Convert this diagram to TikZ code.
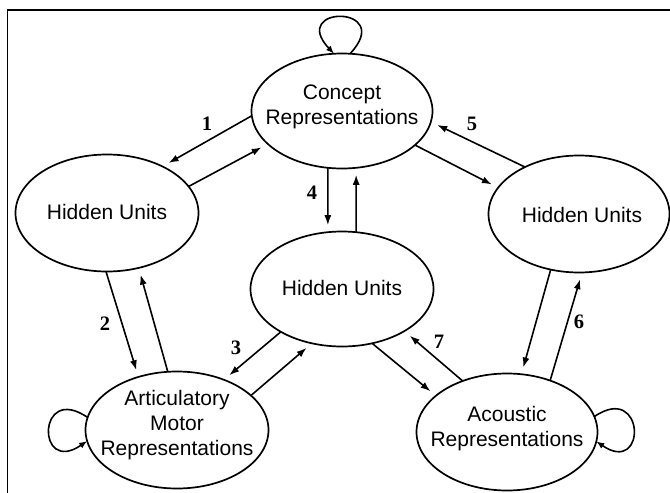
\documentclass[tikz,border=0pt]{standalone}
\usepackage{fontspec}
\setmainfont{Liberation Sans}
\newfontfamily\numfont{Liberation Serif}
\usetikzlibrary{shapes.geometric,arrows.meta}
\newcommand{\etxt}[2]{\makebox[0pt]{\raisebox{#1}[0pt][0pt]{\begin{tabular}{@{}c@{}}#2\end{tabular}}}}
\begin{document}
\begin{tikzpicture}[x=1pt,y=-1pt,
  unit/.style={ellipse, draw, line width=1.7pt, inner sep=0pt, outer sep=0pt,
    font=\fontsize{21}{25}\selectfont},
  conn/.style={line width=1.6pt, -{Latex[length=10pt,width=7pt]}, shorten >=7pt},
  selfloop/.style={line width=1.6pt, -{Latex[length=8pt,width=6.5pt]}},
  num/.style={font=\numfont\bfseries\fontsize{20.5}{24}\selectfont, inner sep=0pt}]
\useasboundingbox (0,0) rectangle (670,493);
% frame
\draw[line width=1.2pt] (7.5,493) -- (7.5,10) -- (670,10);
% nodes
\node[unit, minimum width=181pt, minimum height=115pt] (C) at (342,111) {\etxt{-1.25pt}{Concept\\Representations}};
\node[unit, minimum width=183pt, minimum height=117pt] (L) at (107,213) {\etxt{-7pt}{Hidden Units}};
\node[unit, minimum width=181pt, minimum height=117pt] (R) at (579,214) {\etxt{-8.5pt}{\hspace*{6pt}Hidden Units}};
\node[unit, minimum width=183pt, minimum height=115pt] (M) at (342,289) {\etxt{-7pt}{Hidden Units}};
\node[unit, minimum width=183pt, minimum height=117pt] (A) at (177,430) {\etxt{-0.75pt}{Articulatory\\Motor\\Representations}};
\node[unit, minimum width=181pt, minimum height=117pt] (S) at (507,432) {\etxt{-1.75pt}{Acoustic\\Representations}};
% connectors
\draw[conn] (C.183.7) -- (L.40.4);
\draw[conn] (L.18.6) -- (C.204.8);
\draw[conn] (C.-104) -- (M.104);
\draw[conn] (M.76.7) -- (C.-76.5);
\draw[conn] (R.139.9) -- (C.-7.4);
\draw[conn] (C.-25.9) -- (R.162.2);
\draw[conn] (L.-91) -- (A.126.9);
\draw[conn] (A.99.6) -- (L.-60.1);
\draw[conn] (R.-117.8) -- (S.76.6);
\draw[conn] (S.50.7) -- (R.-87.1);
\draw[conn] (M.-145.7) -- (A.47.9);
\draw[conn] (A.25.6) -- (M.-119.6);
\draw[conn] (M.-61.9) -- (S.153.6);
\draw[conn] (S.131.6) -- (M.-34.7);
% self loops
\draw[selfloop] (C.82) .. controls +(46,-49) and +(-46,-49) .. (C.98);
\draw[selfloop] (A.172) .. controls +(-51,-35) and +(-51,35) .. (A.187);
\draw[selfloop] (S.10) .. controls +(51,-35) and +(51,35) .. (S.-6);
% labels
\node[num] (n1) at (207,124) {1};
\node[num] (n2) at (105,324) {2};
\node[num] (n3) at (236,348) {3};
\node[num] (n4) at (312,193) {4};
\node[num] (n5) at (472,124) {5};
\node[num] (n6) at (579,322) {6};
\node[num] (n7) at (439,342) {7};
\end{tikzpicture}
\end{document}
